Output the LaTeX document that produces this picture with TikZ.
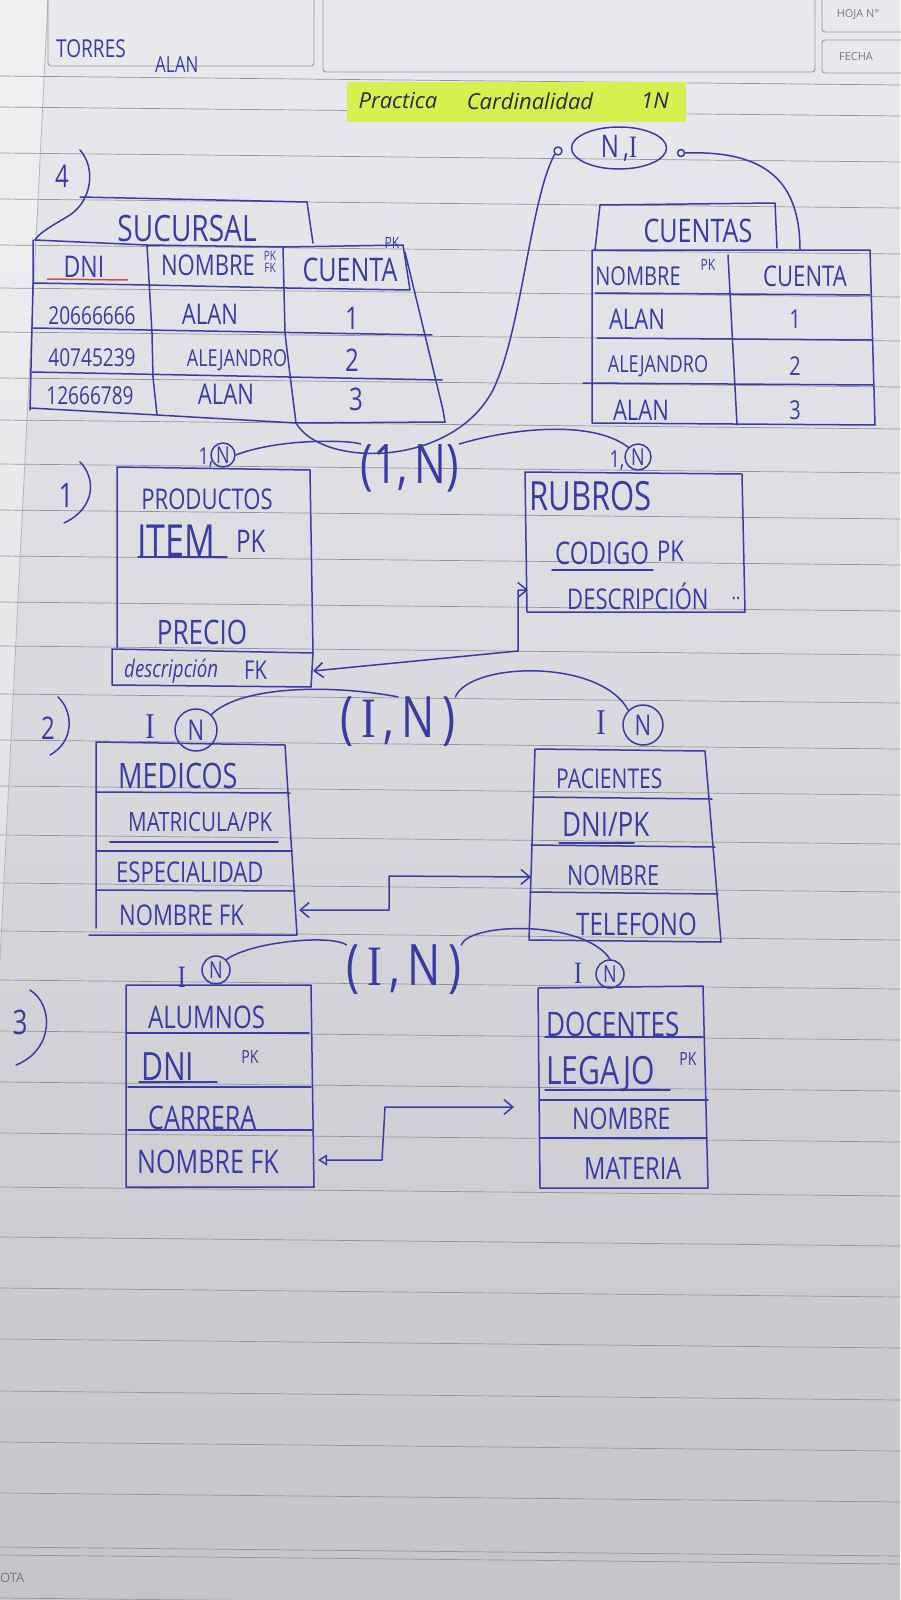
\documentclass[tikz,border=0pt]{standalone}
\usepackage{fontspec}
\setmainfont{Open Sans}
\newfontfamily\serifI{Liberation Serif}
\usetikzlibrary{arrows.meta,shapes.geometric}
\definecolor{inkc}{RGB}{58,60,165}
\definecolor{paperA}{RGB}{234,234,238}
\definecolor{paperB}{RGB}{196,196,202}
\definecolor{rulec}{RGB}{148,148,156}
\definecolor{hilite}{RGB}{214,240,80}
\definecolor{redpen}{RGB}{200,80,70}
\definecolor{titleink}{RGB}{40,44,60}
\newcommand{\fs}[1]{\fontsize{#1}{#1}\selectfont}
\newcommand{\Ii}{{\serifI I}}
\newcommand{\hw}[1]{\scalebox{0.85}[1.1]{#1}}
\begin{document}
\begin{tikzpicture}[x=1pt,y=-1pt,
  pen/.style={draw=inkc,line width=1.5pt,line cap=round,line join=round},
  t/.style={text=inkc,inner sep=0pt,font={\pgfmathsetmacro\fsz{#1*1.18}\fontsize{\fsz}{\fsz}\selectfont}},
  t/.default=22,
  cnode/.style={circle,pen,inner sep=0pt},
  barbtip/.tip={Straight Barb[length=9pt,width=15pt,line width=1.5pt]},
  barb/.style={pen,barbtip-barbtip},
  hdr/.style={draw=rulec,line width=0.9pt,rounded corners=3pt},
  hdrtext/.style={text=rulec!80!black,inner sep=0pt}
]
\useasboundingbox (0,0) rectangle (900,1600);
% paper
\shade[top color=paperA,bottom color=paperB] (0,0) rectangle (900,1600);
\fill[white,opacity=0.35] (0,0) -- (48,0) -- (0,960) -- cycle;
\foreach \yy in {76,107,153,199,245,288,332,378,420,464,510,556,602,646,694,740,786,835,883,931,980,1031,1082,1133,1187,1237,1288,1339,1391,1442,1493,1547,1555,1598}
  {\draw[rulec,line width=0.7pt] (0,\yy) -- (900,\yy+9);}
\draw[rulec!70,line width=0.8pt] (48,0) -- (0,960);
% header boxes
\draw[hdr] (48,-5) rectangle (314,66);
\draw[hdr] (323,-5) rectangle (815,72);
\draw[hdr] (822,-5) rectangle (910,32);
\draw[hdr] (822,40) rectangle (910,73);
\node[hdrtext,font=\fs{11}] (hoja) at (858,15) {HOJA N°};
\node[hdrtext,font=\fs{11}] (fecha) at (856,57) {FECHA};
\node[hdrtext,font=\fs{13},anchor=west] (nota) at (0,1578) {OTA};
% name and title
\node[t=19,anchor=west] (torres) at (56,49) {\hw{TORRES}};
\node[t=17,anchor=west] (alan) at (155,65) {\hw{ALAN}};
\fill[hilite] (347,82) rectangle (686,122);
\node[text=titleink,inner sep=0pt,font=\fs{22}\itshape] (ttl1) at (398,101) {Practica};
\node[text=titleink,inner sep=0pt,font=\fs{22}\itshape] (ttl2) at (530,101) {Cardinalidad};
\node[text=titleink,inner sep=0pt,font=\fs{22}\itshape] (ttl3) at (655,101) {1N};

% ===== 4) SUCURSAL / CUENTAS =====
\node[t=24] (n4) at (62,176) {\hw{4}};
\draw[pen] (80,150) .. controls (96,168) and (92,200) .. (70,215) .. controls (52,226) and (40,232) .. (35,240);
\draw[pen] (80,197) -- (307,202) -- (313,243);
\node[t=28] (sucT) at (187,229) {\hw{SUCURSAL}};
\draw[pen] (35,240) -- (147,245) -- (285,247);
\draw[pen] (33,240) -- (33,285) -- (30,410);
\draw[pen] (33,283) -- (147,285) -- (287,288);
\draw[pen] (285,247) -- (403,245) -- (410,290) -- (287,288);
\draw[pen] (147,245) -- (152,333) -- (153,377) -- (157,415);
\draw[pen] (283,247) -- (285,333) -- (290,375) -- (296,423);
\draw[pen] (405,252) -- (443,410) -- (445,422);
\draw[pen] (33,328) -- (432,335);
\draw[pen] (32,372) -- (442,380);
\draw[pen] (30,408) -- (157,415) -- (296,423) -- (445,422);
\node[t=23] (dni1) at (84,267) {\hw{DNI}};
\draw[redpen,line width=1.5pt] (47,279) -- (128,280);
\node[t=22] (nom1) at (208,265) {\hw{NOMBRE}};
\node[t=10] (pkfk1) at (270,262) {\hw{\shortstack{PK\\FK}}};
\node[t=25] (cue1) at (350,270) {\hw{CUENTA}};
\node[t=12] (pk1) at (392,243) {\hw{PK}};
\node[t=19] (d11) at (92,316) {\hw{20666666}};
\node[t=22] (d12) at (210,314) {\hw{ALAN}};
\node[t=24] (d13) at (352,318) {\hw{1}};
\node[t=19] (d21) at (92,358) {\hw{40745239}};
\node[t=18] (d22) at (237,360) {\hw{ALEJANDRO}};
\node[t=24] (d23) at (352,360) {\hw{2}};
\node[t=19] (d31) at (90,396) {\hw{12666789}};
\node[t=22] (d32) at (226,394) {\hw{ALAN}};
\node[t=24] (d33) at (356,399) {\hw{3}};
\coordinate (sucb) at (296,423);

\draw[pen] (595,250) -- (600,205) -- (775,203) -- (777,248);
\node[t=25] (cuT) at (698,231) {\hw{CUENTAS}};
\draw[pen] (592,250) -- (870,250) -- (875,425) -- (592,423) -- cycle;
\draw[pen] (728,255) -- (737,425);
\draw[pen] (595,293) -- (870,295);
\draw[pen] (597,338) -- (872,340);
\draw[pen] (583,383) -- (873,385);
\node[t=20] (cn) at (638,276) {\hw{NOMBRE}};
\node[t=12] (cpk) at (708,265) {\hw{PK}};
\node[t=22] (cc) at (805,276) {\hw{CUENTA}};
\node[t=22] (c11) at (637,319) {\hw{ALAN}};
\node[t=20] (c12) at (795,319) {\hw{1}};
\node[t=18] (c21) at (658,366) {\hw{ALEJANDRO}};
\node[t=20] (c22) at (795,366) {\hw{2}};
\node[t=22] (c31) at (641,410) {\hw{ALAN}};
\node[t=20] (c32) at (795,410) {\hw{3}};
\coordinate (ctop) at (800,250);

\node[ellipse,pen,t=24,minimum width=95pt,minimum height=42pt] (ni) at (619,148) {\hw{N\,,\Ii}};
\node[cnode,minimum size=8pt] (lp) at (558,151) {};
\node[cnode,minimum size=7pt] (rp) at (681,153) {};
\draw[pen] (sucb) .. controls (322,468) and (452,468) .. (493,390) .. controls (522,330) and (530,200) .. (lp.south west);
\draw[pen] (rp.east) .. controls (770,150) and (800,185) .. (ctop);

% ===== 1) PRODUCTOS / RUBROS =====
\node[t=26] (n1) at (66,495) {\hw{1}};
\draw[pen] (80,462) .. controls (96,478) and (96,508) .. (64,523);
\draw[pen] (117,647) -- (117,467) -- (310,470) -- (313,653);
\draw[pen] (112,649) -- (313,653) -- (311,687) -- (112,685) -- cycle;
\node[t=22] (prod) at (207,499) {\hw{PRODUCTOS}};
\node[t=34,anchor=west] (item) at (137,541) {\hw{ITEM}};
\node[t=24,anchor=west] (itpk) at (236,541) {\hw{PK}};
\draw[pen] (138,557) -- (227,557);
\node[t=26] (prec) at (202,632) {\hw{PRECIO}};
\node[t=19,anchor=west,font={\fs{22}\itshape}] (pdesc) at (124,671) {\hw{descripción}};
\node[t=20,anchor=west] (pdfk) at (244,670) {\hw{FK}};
\coordinate (pfk) at (313,671);
\node[t=18] (one1a) at (206,458) {\hw{1,}};
\node[cnode,t=18,minimum size=24pt] (c1a) at (223,455) {\hw{N}};

\draw[pen] (525,472) -- (742,474) -- (745,612) -- (527,612) -- cycle;
\node[t=31,anchor=west] (rubT) at (529,496) {\hw{RUBROS}};
\node[t=24,anchor=west] (cod) at (555,553) {\hw{CODIGO}};
\node[t=22,anchor=west] (codpk) at (657,551) {\hw{PK}};
\draw[pen] (552,570) -- (653,570);
\node[t=22,anchor=west] (rdesc) at (567,596) {\hw{DESCRIPCIÓN}};
\node[t=16] (rdots) at (736,598) {\hw{..}};
\coordinate (rdin) at (528,590);
\node[t=18] (one1b) at (617,461) {\hw{1,}};
\node[cnode,t=18,minimum size=26pt] (c1b) at (638,457) {\hw{N}};

\node[t=42] (r1) at (410,468) {\hw{(1,\,N)}};
\draw[pen] (c1a.east) .. controls (280,438) and (350,440) .. (r1.north west);
\draw[pen] (r1.north east) .. controls (505,430) and (590,418) .. (c1b.north west);
\draw[barb] (pfk) -- (518,651) -- (518,590) -- (rdin);

% ===== 2) MEDICOS / PACIENTES =====
\node[t=24] (n2) at (48,728) {\hw{2}};
\draw[pen] (58,697) .. controls (74,712) and (74,742) .. (50,755);
\draw[pen] (96,928) -- (96,742) -- (285,745) -- (297,935) -- (89,935);
\draw[pen] (96,792) -- (290,793);
\draw[pen] (110,842) -- (278,842);
\draw[pen] (97,851) -- (292,851);
\draw[pen] (96,890) -- (295,891);
\node[t=27,anchor=west] (med) at (118,776) {\hw{MEDICOS}};
\node[t=20.5,anchor=west] (mat) at (128,822) {\hw{MATRICULA/PK}};
\node[t=22,anchor=west] (esp) at (116,872) {\hw{ESPECIALIDAD}};
\node[t=22,anchor=west] (mnom) at (119,915) {\hw{NOMBRE FK}};
\coordinate (mfk) at (299,910);
\node[t=28] (i2a) at (150,727) {\hw{\Ii}};
\node[cnode,t=22,minimum size=42pt] (c2a) at (196,730) {\hw{N}};

\draw[pen] (535,749) -- (705,751) -- (721,942) -- (529,940) -- cycle;
\draw[pen] (533,797) -- (712,799);
\draw[pen] (531,845) -- (715,847);
\draw[pen] (530,892) -- (718,894);
\node[t=21,anchor=west] (pac) at (556,779) {\hw{PACIENTES}};
\node[t=26,anchor=west] (pdni) at (562,824) {\hw{DNI/PK}};
\draw[pen] (559,843) -- (634,843);
\node[t=21.5,anchor=west] (pnom) at (567,876) {\hw{NOMBRE}};
\node[t=24,anchor=west] (ptel) at (576,924) {\hw{TELEFONO}};
\coordinate (pnin) at (531,877);
\node[t=28] (i2b) at (601,723) {\hw{\Ii}};
\node[cnode,t=22,minimum size=40pt] (c2b) at (643,725) {\hw{N}};

\node[t=44] (r2) at (398,722) {\hw{(\,\Ii\,,\,N\,)}};
\draw[pen] (c2a.north east) .. controls (240,686) and (330,684) .. (r2.north);
\draw[pen] (r2.north east) .. controls (470,662) and (600,658) .. (c2b.north west);
\draw[barb] (mfk) -- (389,910) -- (389,876) -- (pnin);

% ===== 3) ALUMNOS / DOCENTES =====
\node[t=26] (n3) at (20,1022) {\hw{3}};
\draw[pen] (30,990) .. controls (54,1005) and (54,1050) .. (16,1065);
\draw[pen] (126,985) -- (311,985) -- (314,1187) -- (126,1187) -- cycle;
\draw[pen] (127,1033) -- (309,1033);
\draw[pen] (139,1082) -- (217,1082);
\draw[pen] (128,1087) -- (311,1087);
\draw[pen] (128,1130) -- (312,1130);
\node[t=24,anchor=west] (alu) at (148,1017) {\hw{ALUMNOS}};
\node[t=30,anchor=west] (adni) at (141,1067) {\hw{DNI}};
\node[t=14] (apk) at (250,1057) {\hw{PK}};
\node[t=25,anchor=west] (acar) at (148,1118) {\hw{CARRERA}};
\node[t=25,anchor=west] (anom) at (137,1162) {\hw{NOMBRE FK}};
\coordinate (afk) at (318,1160);
\node[t=24] (i3a) at (182,977) {\hw{\Ii}};
\node[cnode,t=18,minimum size=28pt] (c3a) at (216,970) {\hw{N}};

\draw[pen] (538,988) -- (703,986) -- (708,1188) -- (540,1188) -- cycle;
\draw[pen] (545,1037) -- (703,1037);
\draw[pen] (545,1090) -- (670,1090);
\draw[pen] (540,1100) -- (708,1100);
\draw[pen] (540,1138) -- (706,1138);
\node[t=26,anchor=west] (doc) at (546,1024) {\hw{DOCENTES}};
\node[t=30,anchor=west] (leg) at (546,1074) {\hw{LEGAJO}};
\node[t=14] (lpk) at (688,1059) {\hw{PK}};
\node[t=23,anchor=west] (dnom) at (572,1119) {\hw{NOMBRE}};
\node[t=23.6,anchor=west] (dmat) at (584,1169) {\hw{MATERIA}};
\coordinate (dnin) at (514,1107);
\node[t=24] (i3b) at (578,973) {\hw{\Ii}};
\node[cnode,t=18,minimum size=28pt] (c3b) at (610,974) {\hw{N}};

\node[t=44] (r3) at (404,970) {\hw{(\,\Ii\,,\,N\,)}};
\draw[pen] (c3a.north east) .. controls (250,942) and (330,934) .. (r3.north west);
\draw[pen] (r3.north east) .. controls (470,922) and (585,920) .. (c3b.north);
\draw[pen,{Triangle[open,length=9pt,width=11pt,line width=1.5pt]}-barbtip] (afk) -- (382,1160) -- (385,1107) -- (dnin);
\end{tikzpicture}
\end{document}
